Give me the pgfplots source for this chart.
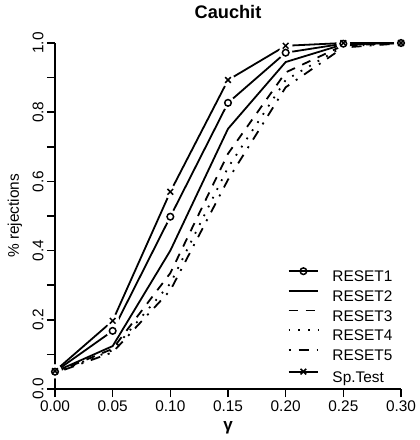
\documentclass[border=0pt]{standalone}
\usepackage{fontspec}
\setmainfont{Liberation Sans}
\usepackage{pgfplots}
\pgfplotsset{compat=1.18}
\begin{document}
\begin{tikzpicture}
\path[use as bounding box] (0,0) rectangle (420pt,440pt);
\begin{axis}[
  at={(55pt,51pt)}, anchor=south west,
  scale only axis, width=346pt, height=346pt,
  xmin=0, xmax=0.3, ymin=0, ymax=1,
  clip=false, axis on top,
  axis lines*=left,
  axis line style={line width=1.6pt},
  tick align=outside,
  major tick length=8pt, minor tick length=8pt,
  every tick/.style={line width=1.6pt, black},
  xtick={0,0.05,0.1,0.15,0.2,0.25,0.3},
  ytick={0,0.2,0.4,0.6,0.8,1},
  minor ytick={0.1,0.3,0.5,0.7,0.9},
  /pgf/number format/assume math mode=true,
  xticklabel={\pgfmathprintnumber[fixed,fixed zerofill,precision=2]{\tick}},
  yticklabel={\pgfmathprintnumber[fixed,fixed zerofill,precision=1]{\tick}},
  tick label style={font=\fontsize{15.4}{18}\selectfont},
  yticklabel style={rotate=90, anchor=south},
  title={\textbf{Cauchit}},
  title style={at={(axis description cs:0.5,1.072)}, anchor=center, font=\fontsize{18.2}{21}\selectfont},
  xlabel={γ},
  xlabel style={at={(axis description cs:0.5,-0.113)}, anchor=center, font=\fontsize{17}{20}\selectfont\bfseries},
  ylabel={\% rejections},
  ylabel style={at={(axis description cs:-0.1156,0.5)}, anchor=center, font=\fontsize{15.4}{18}\selectfont},
  legend style={at={(axis description cs:0.6725,0.350)}, anchor=north west,
    draw=none, fill=none, inner sep=0pt, outer sep=0pt, row sep=8.3pt,
    font=\fontsize{15.4}{18}\selectfont,
    nodes={inner sep=0pt, text height=11pt, text depth=0pt}},
  legend cell align=left,
  legend image code/.code={\draw[mark repeat=2,mark phase=2,#1] plot coordinates {(0pt,5pt) (14.85pt,5pt) (29.7pt,5pt)}; \path (43pt,0pt);},
]
\addlegendimage{black, line width=1.8pt, mark=o, mark size=3.3pt, mark options={solid, line width=1.5pt}}
\addlegendentry{RESET1}
\addlegendimage{black, line width=1.8pt, mark=none}
\addlegendentry{RESET2}
\addlegendimage{black, line width=1.8pt, mark=none, dash pattern=on 9pt off 8pt}
\addlegendentry{RESET3}
\addlegendimage{black, line width=1.8pt, mark=none, dash pattern=on 1.8pt off 8pt}
\addlegendentry{RESET4}
\addlegendimage{black, line width=1.8pt, mark=none, dash pattern=on 2pt off 8pt on 10pt off 8pt}
\addlegendentry{RESET5}
\addlegendimage{black, line width=1.8pt, mark=x, mark size=4pt, mark options={solid, line width=1.5pt}}
\addlegendentry{Sp.Test}

% RESET1 and Sp.Test lines
\addplot[black, line width=1.8pt, no marks, forget plot] coordinates {
(0,0.050) (0.05,0.168) (0.10,0.498) (0.15,0.827) (0.20,0.972) (0.25,0.998) (0.30,1.000)};
\addplot[black, line width=1.8pt, no marks, forget plot] coordinates {
(0,0.052) (0.05,0.197) (0.10,0.570) (0.15,0.893) (0.20,0.992) (0.25,1.000) (0.30,1.000)};
% gaps around points
\addplot[only marks, mark=*, mark size=6.5pt, mark options={fill=white, draw=white}, forget plot] coordinates {
(0,0.050) (0.05,0.168) (0.10,0.498) (0.15,0.827) (0.20,0.972) (0.25,0.998) (0.30,1.000)};
\addplot[only marks, mark=*, mark size=6.5pt, mark options={fill=white, draw=white}, forget plot] coordinates {
(0,0.052) (0.05,0.197) (0.10,0.570) (0.15,0.893) (0.20,0.992) (0.25,1.000) (0.30,1.000)};
% RESET2
\addplot[black, line width=1.8pt, no marks, forget plot] coordinates {
(0,0.050) (0.05,0.124) (0.10,0.400) (0.15,0.752) (0.20,0.945) (0.25,0.996) (0.30,1.000)};
% RESET3
\addplot[black, line width=1.8pt, no marks, dash pattern=on 9pt off 8pt, forget plot] coordinates {
(0,0.048) (0.05,0.116) (0.10,0.335) (0.15,0.680) (0.20,0.915) (0.25,0.993) (0.30,1.000)};
% RESET4
\addplot[black, line width=1.8pt, no marks, dash pattern=on 1.8pt off 8pt, forget plot] coordinates {
(0,0.047) (0.05,0.112) (0.10,0.305) (0.15,0.640) (0.20,0.893) (0.25,0.990) (0.30,1.000)};
% RESET5
\addplot[black, line width=1.8pt, no marks, dash pattern=on 2pt off 8pt on 10pt off 8pt, forget plot] coordinates {
(0,0.046) (0.05,0.106) (0.10,0.285) (0.15,0.605) (0.20,0.872) (0.25,0.987) (0.30,0.999)};
% markers
\addplot[only marks, mark=o, mark size=3.3pt, mark options={black, solid, line width=1.5pt}, forget plot] coordinates {
(0,0.050) (0.05,0.168) (0.10,0.498) (0.15,0.827) (0.20,0.972) (0.25,0.998) (0.30,1.000)};
\addplot[only marks, mark=x, mark size=4pt, mark options={black, solid, line width=1.5pt}, forget plot] coordinates {
(0,0.052) (0.05,0.197) (0.10,0.570) (0.15,0.893) (0.20,0.992) (0.25,1.000) (0.30,1.000)};
\end{axis}
\end{tikzpicture}
\end{document}
